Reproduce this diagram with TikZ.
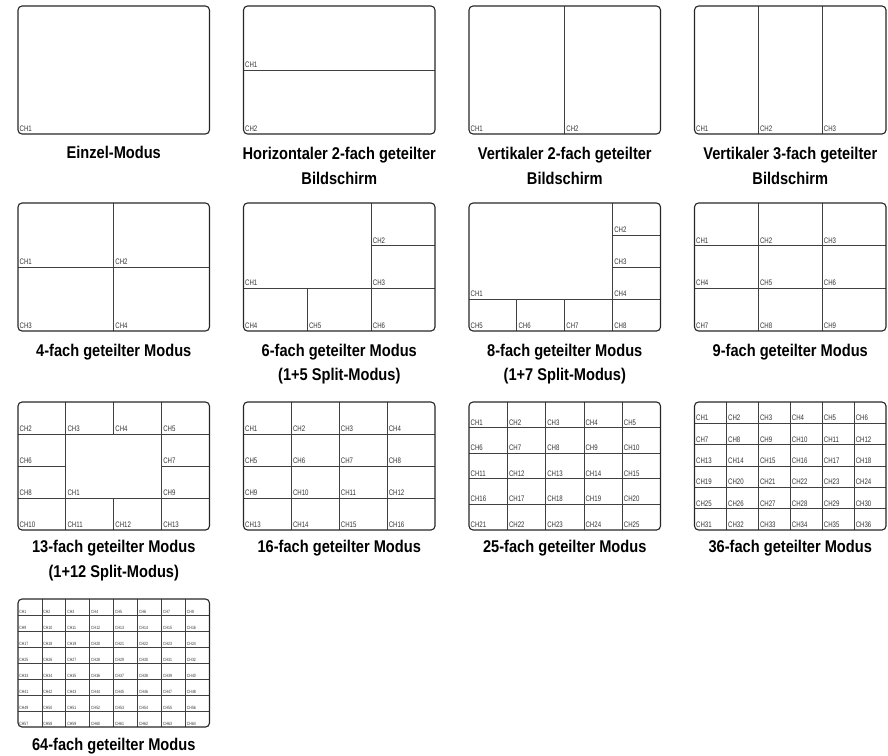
\documentclass[tikz,border=0pt]{standalone}
\usepackage{fontspec}
\newfontfamily\capfont{Liberation Sans}[FakeStretch=0.86]
\newfontfamily\chfont{Liberation Sans}[FakeStretch=0.76]
\newcommand{\bxset}[5]{\def\BX{#1}\def\BY{#2}\def\BW{#3}\def\BH{#4}\def\BP{#5}}
\def\chdx{1.5}\def\chdy{2.5}
\newcommand{\chat}[3]{\node[chcur] (\BP-#3) at ({\BX+(#1-1)*\BW+\chdx},{\BY+#2*\BH-\chdy}) {CH#3};}
\newcommand{\outerbox}[2]{\draw[outer] (#1,#2) rectangle ++(191.5,128);}
\newcommand{\gridbox}[5]{%
  \pgfmathsetmacro\gw{191.5/#3}\pgfmathsetmacro\gh{128/#4}%
  \bxset{#1}{#2}{\gw}{\gh}{#5}%
  \pgfmathtruncatemacro\gc{#3-1}\pgfmathtruncatemacro\gr{#4-1}%
  \foreach \i in {1,...,\gc} \draw[div] ({#1+\i*\gw},#2) -- ++(0,128);
  \foreach \j in {1,...,\gr} \draw[div] (#1,{#2+\j*\gh}) -- ++(191.5,0);
  \foreach \r in {1,...,#4} \foreach \c in {1,...,#3} {\pgfmathtruncatemacro\k{(\r-1)*#3+\c}\chat{\c}{\r}{\k}}
  \outerbox{#1}{#2}}
\begin{document}
\begin{tikzpicture}[x=1pt,y=-1pt,
  outer/.style={draw=black!85, line width=1.1pt, rounded corners=4pt},
  div/.style={draw=black!75, line width=0.8pt},
  chlab/.style={anchor=base west, inner sep=0pt, font=\chfont\fontsize{8}{9}\selectfont, text=black!80},
  chsmall/.style={anchor=base west, inner sep=0pt, font=\chfont\fontsize{4.6}{5}\selectfont, text=black!80},
  chcur/.style={chlab},
  captext/.style={anchor=base, inner sep=0pt, font=\capfont\bfseries\fontsize{17}{20}\selectfont, text=black}]
\useasboundingbox (0,0) rectangle (888,755);

% ---------- Row 1 ----------
\bxset{18}{6}{191.5}{128}{a}
\chat{1}{1}{1}
\outerbox{18}{6}
\node[captext] (capa) at (113.75,158) {Einzel-Modus};

\bxset{243.5}{6}{191.5}{64}{b}
\draw[div] (\BX,{\BY+\BH}) -- ++(191.5,0);
\chat{1}{1}{1}\chat{1}{2}{2}
\outerbox{243.5}{6}
\node[captext] (capb1) at (339.25,159) {Horizontaler 2-fach geteilter};
\node[captext] (capb2) at (339.25,184) {Bildschirm};

\bxset{469}{6}{95.75}{128}{c}
\draw[div] ({\BX+\BW},\BY) -- ++(0,128);
\chat{1}{1}{1}\chat{2}{1}{2}
\outerbox{469}{6}
\node[captext] (capc1) at (564.75,159) {Vertikaler 2-fach geteilter};
\node[captext] (capc2) at (564.75,184) {Bildschirm};

\bxset{694.5}{6}{63.8333}{128}{d}
\draw[div] ({\BX+\BW},\BY) -- ++(0,128);
\draw[div] ({\BX+2*\BW},\BY) -- ++(0,128);
\chat{1}{1}{1}\chat{2}{1}{2}\chat{3}{1}{3}
\outerbox{694.5}{6}
\node[captext] (capd1) at (790.25,159) {Vertikaler 3-fach geteilter};
\node[captext] (capd2) at (790.25,184) {Bildschirm};

% ---------- Row 2 ----------
\gridbox{18}{203}{2}{2}{e}
\node[captext] (cape) at (113.75,356) {4-fach geteilter Modus};

\bxset{243.5}{203}{63.8333}{42.6667}{f}
\draw[div] ({\BX+2*\BW},\BY) -- ++(0,128);
\draw[div] (\BX,{\BY+2*\BH}) -- ++(191.5,0);
\draw[div] ({\BX+2*\BW},{\BY+\BH}) -- ++(\BW,0);
\draw[div] ({\BX+\BW},{\BY+2*\BH}) -- ++(0,\BH);
\chat{1}{2}{1}\chat{3}{1}{2}\chat{3}{2}{3}\chat{1}{3}{4}\chat{2}{3}{5}\chat{3}{3}{6}
\outerbox{243.5}{203}
\node[captext] (capf1) at (339.25,356) {6-fach geteilter Modus};
\node[captext] (capf2) at (339.25,380) {(1+5 Split-Modus)};

\bxset{469}{203}{47.875}{32}{g}
\draw[div] ({\BX+3*\BW},\BY) -- ++(0,128);
\draw[div] (\BX,{\BY+3*\BH}) -- ++(191.5,0);
\draw[div] ({\BX+3*\BW},{\BY+\BH}) -- ++(\BW,0);
\draw[div] ({\BX+3*\BW},{\BY+2*\BH}) -- ++(\BW,0);
\draw[div] ({\BX+\BW},{\BY+3*\BH}) -- ++(0,\BH);
\draw[div] ({\BX+2*\BW},{\BY+3*\BH}) -- ++(0,\BH);
\chat{1}{3}{1}\chat{4}{1}{2}\chat{4}{2}{3}\chat{4}{3}{4}
\chat{1}{4}{5}\chat{2}{4}{6}\chat{3}{4}{7}\chat{4}{4}{8}
\outerbox{469}{203}
\node[captext] (capg1) at (564.75,356) {8-fach geteilter Modus};
\node[captext] (capg2) at (564.75,380) {(1+7 Split-Modus)};

\gridbox{694.5}{203}{3}{3}{h}
\node[captext] (caph) at (790.25,356) {9-fach geteilter Modus};

% ---------- Row 3 ----------
\bxset{18}{402}{47.875}{32}{i}
\draw[div] (\BX,{\BY+\BH}) -- ++(191.5,0);
\draw[div] (\BX,{\BY+3*\BH}) -- ++(191.5,0);
\draw[div] (\BX,{\BY+2*\BH}) -- ++(\BW,0);
\draw[div] ({\BX+3*\BW},{\BY+2*\BH}) -- ++(\BW,0);
\draw[div] ({\BX+\BW},\BY) -- ++(0,128);
\draw[div] ({\BX+3*\BW},\BY) -- ++(0,128);
\draw[div] ({\BX+2*\BW},\BY) -- ++(0,\BH);
\draw[div] ({\BX+2*\BW},{\BY+3*\BH}) -- ++(0,\BH);
\chat{1}{1}{2}\chat{2}{1}{3}\chat{3}{1}{4}\chat{4}{1}{5}
\chat{1}{2}{6}\chat{4}{2}{7}
\chat{1}{3}{8}\chat{2}{3}{1}\chat{4}{3}{9}
\chat{1}{4}{10}\chat{2}{4}{11}\chat{3}{4}{12}\chat{4}{4}{13}
\outerbox{18}{402}
\node[captext] (capi1) at (113.75,552) {13-fach geteilter Modus};
\node[captext] (capi2) at (113.75,577) {(1+12 Split-Modus)};

\gridbox{243.5}{402}{4}{4}{j}
\node[captext] (capj) at (339.25,552) {16-fach geteilter Modus};

\gridbox{469}{402}{5}{5}{k}
\node[captext] (capk) at (564.75,552) {25-fach geteilter Modus};

\gridbox{694.5}{402}{6}{6}{l}
\node[captext] (capl) at (790.25,552) {36-fach geteilter Modus};

% ---------- Row 4 ----------
\tikzset{chcur/.style={chsmall}}
\def\chdx{1.2}\def\chdy{1.8}
\gridbox{18}{599}{8}{8}{m}
\node[captext] (capm) at (113.75,750) {64-fach geteilter Modus};
\end{tikzpicture}
\end{document}
